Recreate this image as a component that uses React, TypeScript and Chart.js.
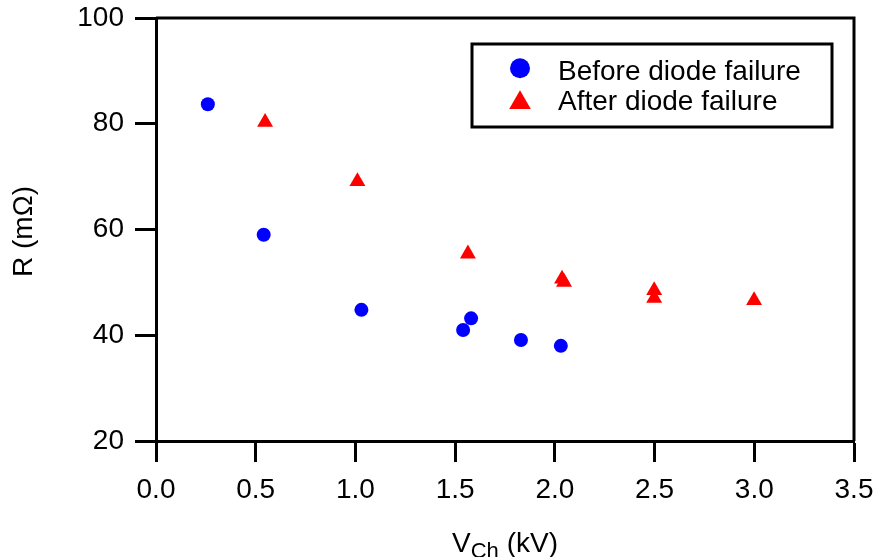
import React, { useEffect, useRef } from "react";
import { Chart, registerables } from "chart.js";

Chart.register(...registerables);

const beforeX = [0.26, 0.54, 1.03, 1.54, 1.58, 1.83, 2.03];
const beforeY = [83.7, 59.0, 44.8, 41.0, 43.2, 39.1, 38.0];
const afterX = [0.547, 1.01, 1.564, 2.036, 2.046, 2.498, 2.498, 2.999];
const afterY = [80.3, 69.1, 55.4, 50.66, 50.03, 48.46, 47.0, 46.57];

const seriesLabels = ["Before diode failure", "After diode failure"];
const xTitleMain = "V";
const xTitleSub = "Ch";
const xTitleRest = " (kV)";
const yTitle = "R (m\u03A9)";

const FONT = "'Liberation Sans', Arial, Helvetica, sans-serif";

const framePlugin = {
  id: "frameAndText",
  afterDraw(chart: any) {
    const { ctx, chartArea } = chart;
    const { left, right, top, bottom } = chartArea;
    ctx.save();
    ctx.strokeStyle = "#000";
    ctx.lineWidth = 3;
    ctx.beginPath();
    ctx.moveTo(left, top);
    ctx.lineTo(right, top);
    ctx.lineTo(right, bottom);
    ctx.stroke();

    ctx.fillStyle = "#000";
    ctx.textBaseline = "alphabetic";
    ctx.textAlign = "left";
    const big = `28px ${FONT}`;
    const small = `22px ${FONT}`;
    ctx.font = big;
    const w1 = ctx.measureText(xTitleMain).width;
    const w3 = ctx.measureText(xTitleRest).width;
    ctx.font = small;
    const w2 = ctx.measureText(xTitleSub).width;
    const total = w1 + w2 + w3;
    const cx = (left + right) / 2;
    let x0 = cx - total / 2;
    const by = 551.5;
    ctx.font = big;
    ctx.fillText(xTitleMain, x0, by);
    x0 += w1;
    ctx.font = small;
    ctx.fillText(xTitleSub, x0, by + 6);
    x0 += w2;
    ctx.font = big;
    ctx.fillText(xTitleRest, x0, by);

    ctx.save();
    ctx.translate(31.5, (top + bottom) / 2 + 2);
    ctx.rotate(-Math.PI / 2);
    ctx.textAlign = "center";
    ctx.font = big;
    ctx.fillText(yTitle, 0, 0);
    ctx.restore();

    const lx = left + 316;
    const ly = top + 26;
    const lw = 360;
    const lh = 83;
    ctx.fillStyle = "#fff";
    ctx.fillRect(lx, ly, lw, lh);
    ctx.strokeStyle = "#000";
    ctx.lineWidth = 3;
    ctx.strokeRect(lx, ly, lw, lh);
    const mx = lx + 48;
    const tx = lx + 86;
    ctx.fillStyle = "#0000ff";
    ctx.beginPath();
    ctx.arc(mx, ly + 24.3, 10, 0, Math.PI * 2);
    ctx.fill();
    ctx.fillStyle = "#ff0000";
    ctx.beginPath();
    const r = 12.5;
    const cy = ly + 55.7 + r / 4;
    ctx.moveTo(mx, cy - r);
    ctx.lineTo(mx + r * Math.sin(Math.PI * 2 / 3), cy + r / 2);
    ctx.lineTo(mx - r * Math.sin(Math.PI * 2 / 3), cy + r / 2);
    ctx.closePath();
    ctx.fill();
    ctx.fillStyle = "#000";
    ctx.font = big;
    ctx.textAlign = "left";
    ctx.textBaseline = "alphabetic";
    ctx.fillText(seriesLabels[0], tx, ly + 36);
    ctx.fillText(seriesLabels[1], tx, ly + 66);
    ctx.restore();
  },
};

export default function App() {
  const ref = useRef<HTMLCanvasElement>(null);
  useEffect(() => {
    if (!ref.current) return;
    const chart = new Chart(ref.current, {
      type: "scatter",
      data: {
        datasets: [
          {
            label: seriesLabels[0],
            data: beforeX.map((x, i) => ({ x, y: beforeY[i] })),
            backgroundColor: "#0000ff",
            borderColor: "#0000ff",
            pointStyle: "circle",
            pointRadius: 7,
            borderWidth: 0,
          },
          {
            label: seriesLabels[1],
            data: afterX.map((x, i) => ({ x, y: afterY[i] })),
            backgroundColor: "#ff0000",
            borderColor: "#ff0000",
            pointStyle: "triangle",
            pointRadius: 9.2,
            borderWidth: 0,
          },
        ],
      },
      options: {
        responsive: false,
        animation: false,
        layout: { padding: { top: 18, right: 20, left: 0, bottom: 0 } },
        plugins: {
          legend: { display: false },
          tooltip: { enabled: false },
          title: { display: false },
        },
        scales: {
          x: {
            type: "linear",
            min: 0,
            max: 3.5,
            afterFit: (s: any) => {
              s.height = 116;
              s.paddingLeft = 0;
              s.paddingRight = 0;
            },
            ticks: {
              stepSize: 0.5,
              color: "#000",
              font: { family: FONT, size: 28 },
              padding: 11,
              maxRotation: 0,
              callback: (v: any) => Number(v).toFixed(1),
            },
            grid: {
              drawOnChartArea: false,
              drawTicks: true,
              tickLength: 21,
              tickWidth: 3,
              tickColor: "#000",
            },
            border: { display: true, color: "#000", width: 3 },
          },
          y: {
            type: "linear",
            min: 20,
            max: 100,
            afterFit: (s: any) => {
              s.width = 156;
              s.paddingTop = 0;
              s.paddingBottom = 0;
            },
            ticks: {
              stepSize: 20,
              color: "#000",
              font: { family: FONT, size: 28 },
              padding: 11,
            },
            grid: {
              drawOnChartArea: false,
              drawTicks: true,
              tickLength: 21,
              tickWidth: 3,
              tickColor: "#000",
            },
            border: { display: true, color: "#000", width: 3 },
          },
        },
      },
      plugins: [framePlugin],
    });
    return () => chart.destroy();
  }, []);
  return (
    <div style={{ position: "absolute", left: 0, top: 0, width: 874, height: 557, background: "#fff" }}>
      <canvas ref={ref} width={874} height={557} />
    </div>
  );
}
